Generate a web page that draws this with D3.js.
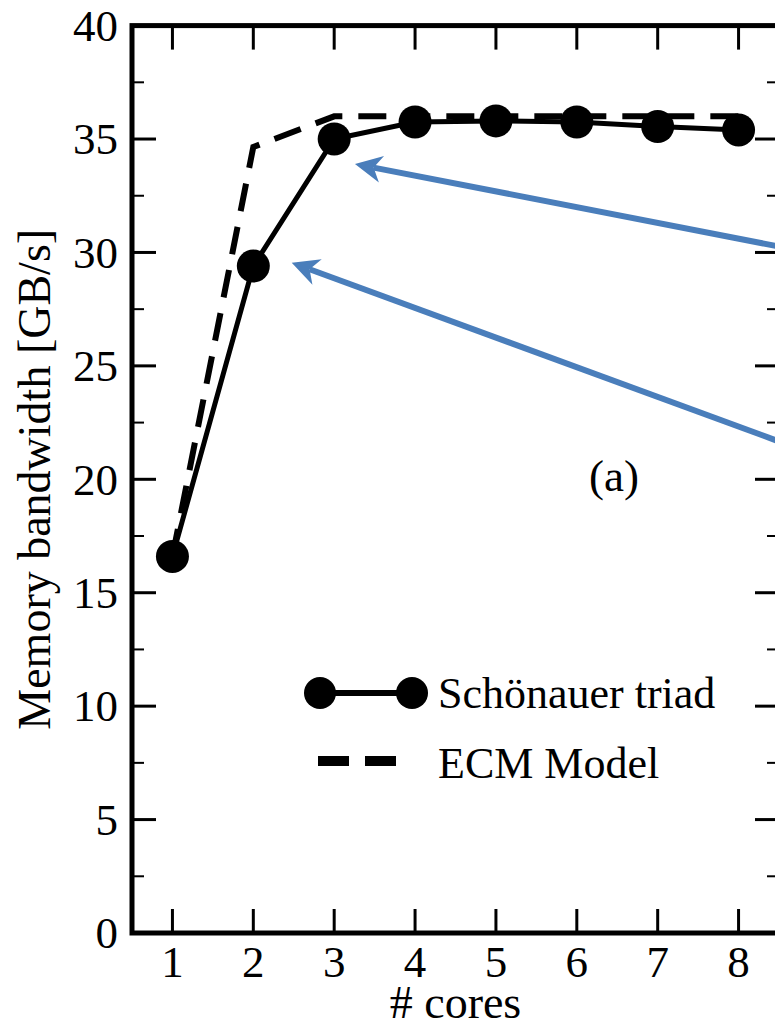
<!DOCTYPE html>
<html>
<head>
<meta charset="utf-8">
<script src="https://cdn.jsdelivr.net/npm/d3@7"></script>
<style>
  body { margin: 0; background: #fff; }
  text { font-family: "Liberation Serif", "Times New Roman", serif; fill: #000; }
</style>
</head>
<body>
<svg id="chart" width="775" height="1026"></svg>
<script>
// data
var cores = [1, 2, 3, 4, 5, 6, 7, 8];
var triad = [16.6, 29.4, 35.0, 35.75, 35.8, 35.75, 35.55, 35.4];
var ecm = [16.6, 34.65, 36.0, 36.0, 36.0, 36.0, 36.0, 36.0];
var xTicks = [1, 2, 3, 4, 5, 6, 7, 8];
var yTicks = [0, 5, 10, 15, 20, 25, 30, 35, 40];
var yMinor = [2.5, 7.5, 12.5, 17.5, 22.5, 27.5, 32.5, 37.5];
// blue annotation arrows: tail (off to the right) -> tip, in data units
var arrows = [
	{tail: [8.6, 30.19], tip: [3.257, 33.9]},
	{tail: [8.6, 21.54], tip: [2.475, 29.55]}
];

var svg = d3.select('#chart');
var pLeft = 132, pRight = 779, pTop = 25.6, pBottom = 933;

var x = d3.scaleLinear().domain([0.5, 8.5]).range([pLeft, pRight]);
var y = d3.scaleLinear().domain([0, 40]).range([pBottom, pTop]);

var g = svg.append('g');

// ticks (all pointing inward)
function ticks(vals, len, w) {
	vals.forEach(function(v) {
		g.append('line').attr('x1', pLeft).attr('x2', pLeft + len)
			.attr('y1', y(v)).attr('y2', y(v)).attr('stroke', '#000').attr('stroke-width', w);
		g.append('line').attr('x1', pRight).attr('x2', pRight - len)
			.attr('y1', y(v)).attr('y2', y(v)).attr('stroke', '#000').attr('stroke-width', w);
	});
}
ticks(yTicks, 24, 3);
ticks(yMinor, 12, 2);
xTicks.forEach(function(v) {
	g.append('line').attr('x1', x(v)).attr('x2', x(v))
		.attr('y1', pBottom).attr('y2', pBottom - 24).attr('stroke', '#000').attr('stroke-width', 3);
	g.append('line').attr('x1', x(v)).attr('x2', x(v))
		.attr('y1', pTop).attr('y2', pTop + 24).attr('stroke', '#000').attr('stroke-width', 3);
});

// frame
g.append('rect')
	.attr('x', pLeft).attr('y', pTop)
	.attr('width', pRight - pLeft).attr('height', pBottom - pTop)
	.attr('fill', 'none').attr('stroke', '#000').attr('stroke-width', 5);

// tick labels
g.selectAll('.yl').data(yTicks).enter().append('text')
	.attr('x', 118).attr('y', function(d) { return y(d); })
	.attr('dy', '0.34em')
	.attr('text-anchor', 'end')
	.style('font-size', '45px')
	.text(function(d) { return d; });
g.selectAll('.xl').data(xTicks).enter().append('text')
	.attr('x', function(d) { return x(d); }).attr('y', 977)
	.attr('text-anchor', 'middle')
	.style('font-size', '45px')
	.text(function(d) { return d; });

// axis titles
svg.append('text')
	.attr('transform', 'translate(50,' + ((pTop + pBottom) / 2) + ') rotate(-90)')
	.attr('text-anchor', 'middle')
	.style('font-size', '46px')
	.text('Memory bandwidth [GB/s]');
svg.append('text')
	.attr('x', (pLeft + pRight) / 2).attr('y', 1018)
	.attr('text-anchor', 'middle')
	.style('font-size', '46px')
	.text('# cores');

// series
var line = d3.line()
	.x(function(d, i) { return x(cores[i]); })
	.y(function(d) { return y(d); });

g.append('path').datum(ecm)
	.attr('d', line)
	.attr('fill', 'none').attr('stroke', '#000')
	.attr('stroke-width', 6)
	.attr('stroke-dasharray', '28,16');

g.append('path').datum(triad)
	.attr('d', line)
	.attr('fill', 'none').attr('stroke', '#000')
	.attr('stroke-width', 5);

g.selectAll('.pt').data(triad).enter().append('circle')
	.attr('cx', function(d, i) { return x(cores[i]); })
	.attr('cy', function(d) { return y(d); })
	.attr('r', 16.5)
	.attr('fill', '#000');

// "(a)"
svg.append('text')
	.attr('x', x(6.46)).attr('y', y(19.5))
	.attr('text-anchor', 'middle')
	.style('font-size', '45px')
	.text('(a)');

// arrows
var blue = '#4a7ebb';
arrows.forEach(function(a) {
	var x0 = x(a.tail[0]), y0 = y(a.tail[1]);
	var x1 = x(a.tip[0]), y1 = y(a.tip[1]);
	var dx = x1 - x0, dy = y1 - y0, len = Math.sqrt(dx * dx + dy * dy);
	var ux = dx / len, uy = dy / len; // toward tip
	var px = -uy, py = ux;
	var headLen = 27, half = 13.5, notch = 19;
	svg.append('line')
		.attr('x1', x0).attr('y1', y0)
		.attr('x2', x1 - ux * notch).attr('y2', y1 - uy * notch)
		.attr('stroke', blue).attr('stroke-width', 6);
	var pts = [
		[x1, y1],
		[x1 - ux * headLen + px * half, y1 - uy * headLen + py * half],
		[x1 - ux * notch, y1 - uy * notch],
		[x1 - ux * headLen - px * half, y1 - uy * headLen - py * half]
	];
	svg.append('path')
		.attr('d', 'M' + pts.map(function(p) { return p.join(','); }).join('L') + 'Z')
		.attr('fill', blue);
});

// legend
var lg = svg.append('g').attr('transform', 'translate(320,693)');
lg.append('line').attr('x1', 0).attr('x2', 92).attr('y1', 0).attr('y2', 0)
	.attr('stroke', '#000').attr('stroke-width', 6);
lg.selectAll('circle').data([0, 92]).enter().append('circle')
	.attr('cx', function(d) { return d; }).attr('cy', 0).attr('r', 16).attr('fill', '#000');
lg.append('text').attr('x', 118).attr('y', 15)
	.style('font-size', '44px').text('Schönauer triad');
lg.append('line').attr('x1', -2).attr('x2', 78).attr('y1', 68).attr('y2', 68)
	.attr('stroke', '#000').attr('stroke-width', 10)
	.attr('stroke-dasharray', '31,16');
lg.append('text').attr('x', 118).attr('y', 85)
	.style('font-size', '44px').text('ECM Model');
</script>
</body>
</html>
